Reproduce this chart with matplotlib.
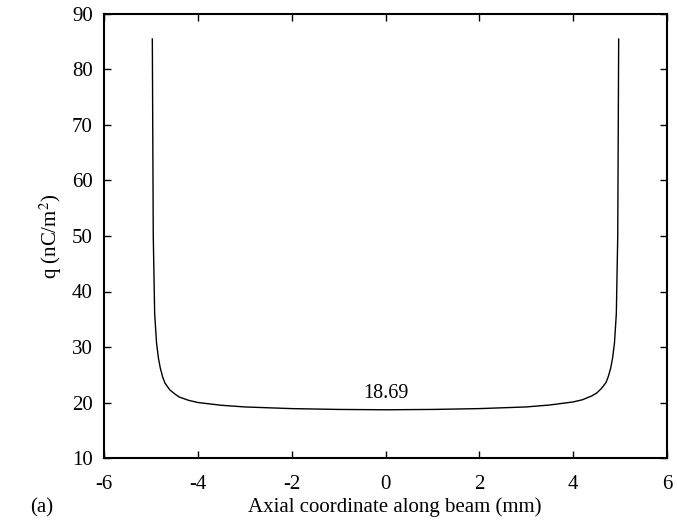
import matplotlib.pyplot as plt
import numpy as np

# surface charge density along the beam
pos_mm = [-4.97, -4.95, -4.92, -4.88, -4.84, -4.8, -4.75, -4.7, -4.6, -4.5, -4.4, -4.2,
          -4.0, -3.5, -3.0, -2.0, -1.0, 0.0, 1.0, 2.0, 3.0, 3.5, 4.0, 4.2, 4.4, 4.5,
          4.6, 4.7, 4.75, 4.8, 4.84, 4.88, 4.92, 4.95, 4.97]
q_nc = [85.5, 50.0, 36.0, 30.7, 28.0, 26.2, 24.6, 23.5, 22.3, 21.6, 21.0, 20.4,
        20.0, 19.5, 19.2, 18.9, 18.75, 18.69, 18.75, 18.9, 19.2, 19.55, 20.1, 20.5, 21.2, 21.7,
        22.5, 23.6, 24.7, 26.2, 28.0, 30.7, 36.0, 50.0, 85.5]
center_value = 18.69

plt.rcParams["font.family"] = ["Liberation Serif", "DejaVu Serif"]
plt.rcParams["mathtext.fontset"] = "stix"
fs = 15

fig = plt.figure(figsize=(6.77, 5.21), dpi=100)
ax = fig.add_axes([104 / 677, 63 / 521, 563 / 677, 444 / 521])

ax.plot(pos_mm, q_nc, color="black", lw=1.0)
ax.text(0, 20.0, f"{center_value:.2f}", ha="center", va="bottom", fontsize=14.5)

ax.set_xlim(-6, 6)
ax.set_ylim(10, 90)
ax.set_xticks(np.arange(-6, 7, 2))
ax.set_yticks(np.arange(10, 91, 10))
ax.set_xticklabels(["-6", "-4", "-2", "0", "2", "4", "6"])
ax.tick_params(direction="in", top=True, right=True, length=5, width=1.0,
               labelsize=fs)
ax.tick_params(axis="x", pad=12)
ax.tick_params(axis="y", pad=8)
for s in ax.spines.values():
    s.set_linewidth(1.5)

ax.set_ylabel("q (nC/m$^2$)", fontsize=fs, labelpad=6)
fig.text(395 / 677, 9 / 521, "Axial coordinate along beam (mm)", fontsize=fs,
         ha="center", va="baseline")
fig.text(30 / 677, 9 / 521, "(a)", fontsize=fs, ha="left", va="baseline")

fig.savefig("out.png", dpi=100)
